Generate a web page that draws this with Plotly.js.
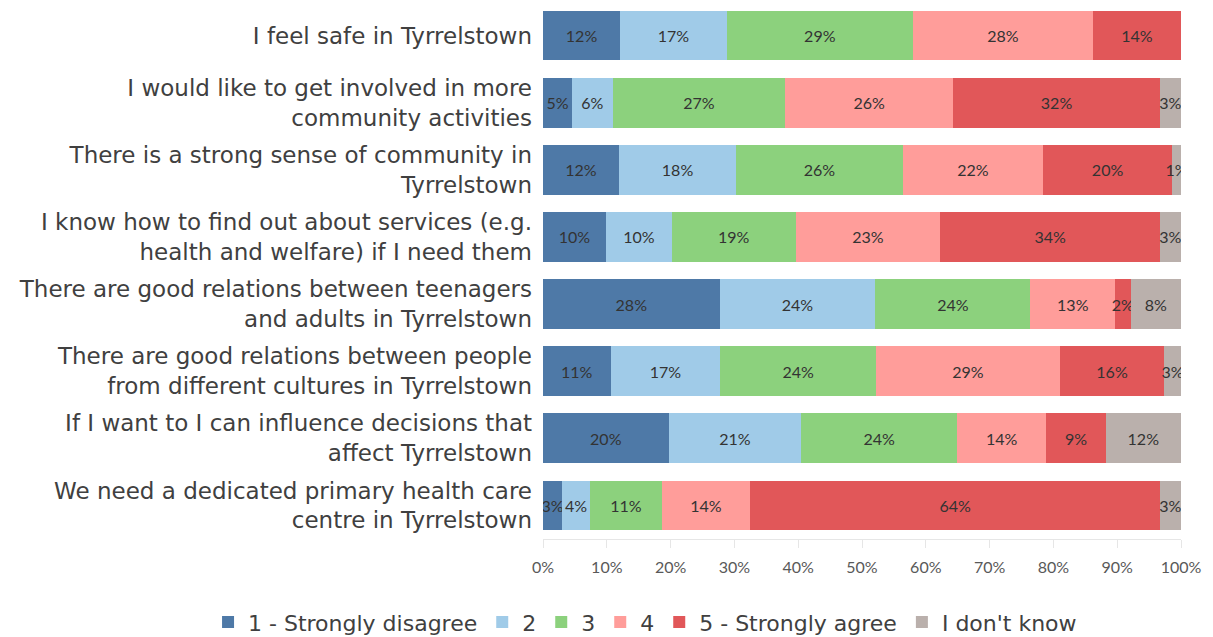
<!DOCTYPE html>
<html>
<head>
<meta charset="utf-8">
<script src="https://cdn.plot.ly/plotly-3.0.1.min.js"></script>
<style>
  html, body { margin: 0; padding: 0; background: #fff; }
  #chart { width: 1213px; height: 637px; }
</style>
</head>
<body>
<div id="chart"></div>
<script>
// statements, top to bottom as in the picture
const statements = [
  'I feel safe in Tyrrelstown',
  'I would like to get involved in more<br>community activities',
  'There is a strong sense of community in<br>Tyrrelstown',
  'I know how to find out about services (e.g.<br>health and welfare) if I need them',
  'There are good relations between teenagers<br>and adults in Tyrrelstown',
  'There are good relations between people<br>from different cultures in Tyrrelstown',
  'If I want to I can influence decisions that<br>affect Tyrrelstown',
  'We need a dedicated primary health care<br>centre in Tyrrelstown'
];

const seriesNames = ['1 - Strongly disagree', '2', '3', '4', '5 - Strongly agree', "I don't know"];
const seriesColors = ['#4E79A7', '#A0CBE8', '#8CD17D', '#FF9D9A', '#E15759', '#BAB0AC'];

// percentages per statement (same order as statements)
const stronglyDisagree = [12.1, 4.6, 11.9, 9.9, 27.7, 10.6, 19.7, 3.0];
const two              = [16.7, 6.3, 18.4, 10.3, 24.4, 17.2, 20.8, 4.4];
const three            = [29.2, 27.1, 26.1, 19.4, 24.3, 24.4, 24.4, 11.2];
const four             = [28.2, 26.3, 22.0, 22.7, 13.3, 28.8, 14.0, 13.9];
const stronglyAgree    = [13.8, 32.4, 20.2, 34.4, 2.4, 16.4, 9.3, 64.2];
const dontKnow         = [null, 3.3, 1.4, 3.3, 7.9, 2.6, 11.8, 3.3];

const seriesValues = [stronglyDisagree, two, three, four, stronglyAgree, dontKnow];

const labelFont = '"DejaVu Sans", sans-serif';

const traces = seriesNames.map((name, i) => ({
  type: 'bar',
  orientation: 'h',
  name: name,
  y: statements,
  x: seriesValues[i],
  marker: { color: seriesColors[i] },
  texttemplate: '%{x:.0f}%',
  textposition: 'inside',
  insidetextanchor: 'middle',
  textangle: 0,
  constraintext: 'none',
  insidetextfont: { family: 'Lato, sans-serif', size: 16, color: '#333333' },
  hoverinfo: 'x+name'
}));

const layout = {
  width: 1213,
  height: 637,
  barmode: 'stack',
  bargap: 0.26,
  margin: { l: 543, r: 32, t: 2, b: 98, autoexpand: false },
  paper_bgcolor: '#ffffff',
  plot_bgcolor: '#ffffff',
  font: { family: labelFont, color: '#404040' },
  xaxis: {
    range: [0, 100],
    tickvals: [0, 10, 20, 30, 40, 50, 60, 70, 80, 90, 100],
    ticktext: ['0%', '10%', '20%', '30%', '40%', '50%', '60%', '70%', '80%', '90%', '100%'],
    showgrid: false,
    zeroline: false,
    showline: true,
    linecolor: '#e6e6e6',
    ticks: 'outside',
    ticklen: 8,
    tickcolor: '#e6e6e6',
    ticklabelstandoff: 6,
    tickfont: { family: 'Lato, sans-serif', size: 16, color: '#595959' }
  },
  yaxis: {
    autorange: 'reversed',
    showgrid: false,
    zeroline: false,
    ticks: '',
    ticklabelstandoff: 10,
    tickfont: { size: 23, color: '#404040' }
  },
  showlegend: true,
  legend: {
    orientation: 'h',
    x: -0.525,
    xanchor: 'left',
    y: -0.155,
    yanchor: 'middle',
    traceorder: 'normal',
    itemwidth: 30,
    font: { size: 22, color: '#404040' }
  }
};

Plotly.newPlot('chart', traces, layout, { displayModeBar: false, responsive: false });
</script>
</body>
</html>
